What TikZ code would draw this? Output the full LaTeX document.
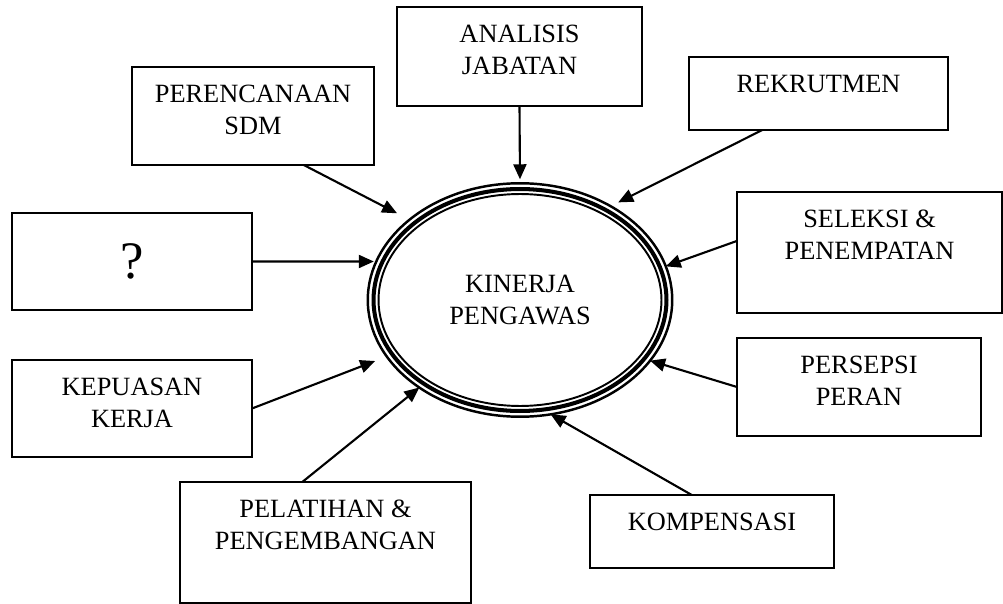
\documentclass[tikz,border=0pt]{standalone}
\usepackage{fontspec}
\setmainfont{Liberation Serif}
\usetikzlibrary{positioning,shapes.geometric,arrows.meta}
\tikzset{
kotak/.style={draw,rectangle,line width=1.1pt,inner sep=0pt,outer sep=0pt},
isi/.style={align=center,inner sep=0pt,font=\fontsize{15}{18}\selectfont},
panah/.style={-{Triangle[length=0.3cm,width=0.26cm]},line width=1.2pt}
}
\begin{document}
\begin{tikzpicture}[x=0.02cm,y=-0.02cm]
\useasboundingbox (0,0) rectangle (1003,604);
% kotak-kotak faktor
\foreach \x/\y/\w/\h/\name in {519.5/56.5/4.9/1.98/analisis,253/116/4.84/1.96/perencanaan,818.5/93.5/5.18/1.46/rekrutmen,132/261.5/4.8/1.94/tanya,869.5/252.5/5.3/2.42/seleksi,132/408.5/4.8/1.94/kepuasan,859/387/4.88/1.96/persepsi,325.5/542.5/5.82/2.42/pelatihan,712/531.5/4.88/1.46/kompensasi}
{
\node[kotak,minimum width=\w cm,minimum height=\h cm] (\name) at (\x,\y) {};
}
\node[isi,below=0.36cm of analisis.north] (analisis-t) {ANALISIS\\JABATAN};
\node[isi,below=0.36cm of perencanaan.north] (perencanaan-t) {PERENCANAAN\\SDM};
\node[isi,below=0.36cm of rekrutmen.north] (rekrutmen-t) {REKRUTMEN};
\node[inner sep=0pt,font=\fontsize{30}{30}\selectfont] (tanya-t) at (tanya) {?};
\node[isi,below=0.36cm of seleksi.north] (seleksi-t) {SELEKSI \&\\PENEMPATAN};
\node[isi,below=0.36cm of kepuasan.north] (kepuasan-t) {KEPUASAN\\KERJA};
\node[isi,below=0.36cm of persepsi.north] (persepsi-t) {PERSEPSI\\PERAN};
\node[isi,below=0.36cm of pelatihan.north] (pelatihan-t) {PELATIHAN \&\\PENGEMBANGAN};
\node[isi,below=0.36cm of kompensasi.north] (kompensasi-t) {KOMPENSASI};
% lingkaran tengah (tiga garis)
\node[isi,ellipse,draw,line width=1.4pt,outer sep=0pt,minimum width=6.09cm,minimum height=4.67cm] (kinerja) at (520,300) {KINERJA\\PENGAWAS};
\draw[line width=2.3pt] (kinerja.center) ellipse [x radius=2.93cm,y radius=2.22cm];
\draw[line width=1.1pt] (kinerja.center) ellipse [x radius=2.83cm,y radius=2.12cm];
% panah ke kinerja
\draw[panah,shorten >=0.08cm] (analisis.south) -- (kinerja.90);
\draw[panah,shorten >=0.28cm] (perencanaan.-44) -- (kinerja.144);
\draw[panah,shorten >=0.17cm] (rekrutmen.-147) -- (kinerja.46);
\draw[panah,shorten >=0.05cm] (tanya.east) -- (kinerja.165);
\draw[panah] (seleksi.175) -- (kinerja.13);
\draw[panah,shorten >=0.25cm] (kepuasan.east) -- (kinerja.-157);
\draw[panah] (persepsi.west) -- (kinerja.-25.5);
\draw[panah] (pelatihan.111) -- (kinerja.-139.6);
\draw[panah] (kompensasi.119) -- (kinerja.-75.4);
\end{tikzpicture}
\end{document}
